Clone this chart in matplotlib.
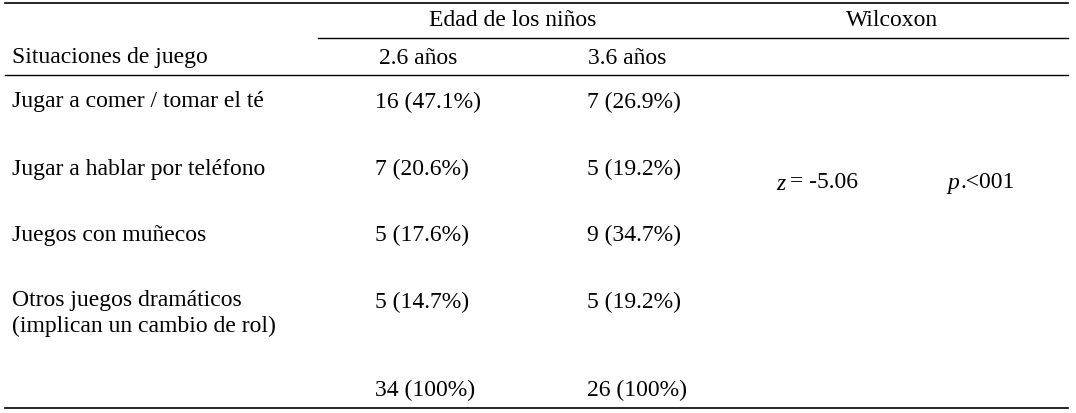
import matplotlib.pyplot as plt

plt.rcParams['font.family'] = ['Liberation Serif', 'DejaVu Serif']

situaciones = ['Jugar a comer / tomar el té', 'Jugar a hablar por teléfono',
               'Juegos con muñecos', 'Otros juegos dramáticos\n(implican un cambio de rol)']
edad_26 = ['16 (47.1%)', '7 (20.6%)', '5 (17.6%)', '5 (14.7%)']
edad_36 = ['7 (26.9%)', '5 (19.2%)', '9 (34.7%)', '5 (19.2%)']
total_26 = '34 (100%)'
total_36 = '26 (100%)'
wilcoxon_z = '-5.06'
wilcoxon_p = '.<001'

fig = plt.figure(figsize=(10.76, 4.13), dpi=100)
ax = fig.add_axes([0, 0, 1, 1])
ax.set_xlim(0, 1076)
ax.set_ylim(413, 0)
ax.axis('off')

fs = 17
# rules
ax.plot([5, 1068], [3, 3], color='black', lw=1.2)
ax.plot([318, 1068], [38, 38], color='black', lw=1.0)
ax.plot([5, 1068], [75, 75], color='black', lw=1.0)
ax.plot([5, 1068], [408, 408], color='black', lw=1.2)

# headers
ax.text(513, 20, 'Edad de los niños', fontsize=fs, ha='center', va='center')
ax.text(892, 20, 'Wilcoxon', fontsize=fs, ha='center', va='center')
ax.text(12, 58, 'Situaciones de juego', fontsize=fs, ha='left', va='center')
ax.text(418, 58, '2.6 años', fontsize=fs, ha='center', va='center')
ax.text(627, 58, '3.6 años', fontsize=fs, ha='center', va='center')

rows_y = [102, 169, 235, 302]
for y, s, a, b in zip(rows_y, situaciones, edad_26, edad_36):
    if '\n' in s:
        ax.text(12, y - 12, s, fontsize=fs, ha='left', va='top', linespacing=1.3)
    else:
        ax.text(12, y, s, fontsize=fs, ha='left', va='center')
    ax.text(375, y, a, fontsize=fs, ha='left', va='center')
    ax.text(587, y, b, fontsize=fs, ha='left', va='center')

ax.text(776, 184, 'z', fontsize=fs, style='italic', ha='left', va='center')
ax.text(790, 182, '= ' + wilcoxon_z, fontsize=fs, ha='left', va='center')
ax.text(947, 184, 'p', fontsize=fs, style='italic', ha='left', va='center')
ax.text(960, 182, wilcoxon_p, fontsize=fs, ha='left', va='center')

ax.text(375, 390, total_26, fontsize=fs, ha='left', va='center')
ax.text(587, 390, total_36, fontsize=fs, ha='left', va='center')

fig.savefig('out.png', dpi=100)
